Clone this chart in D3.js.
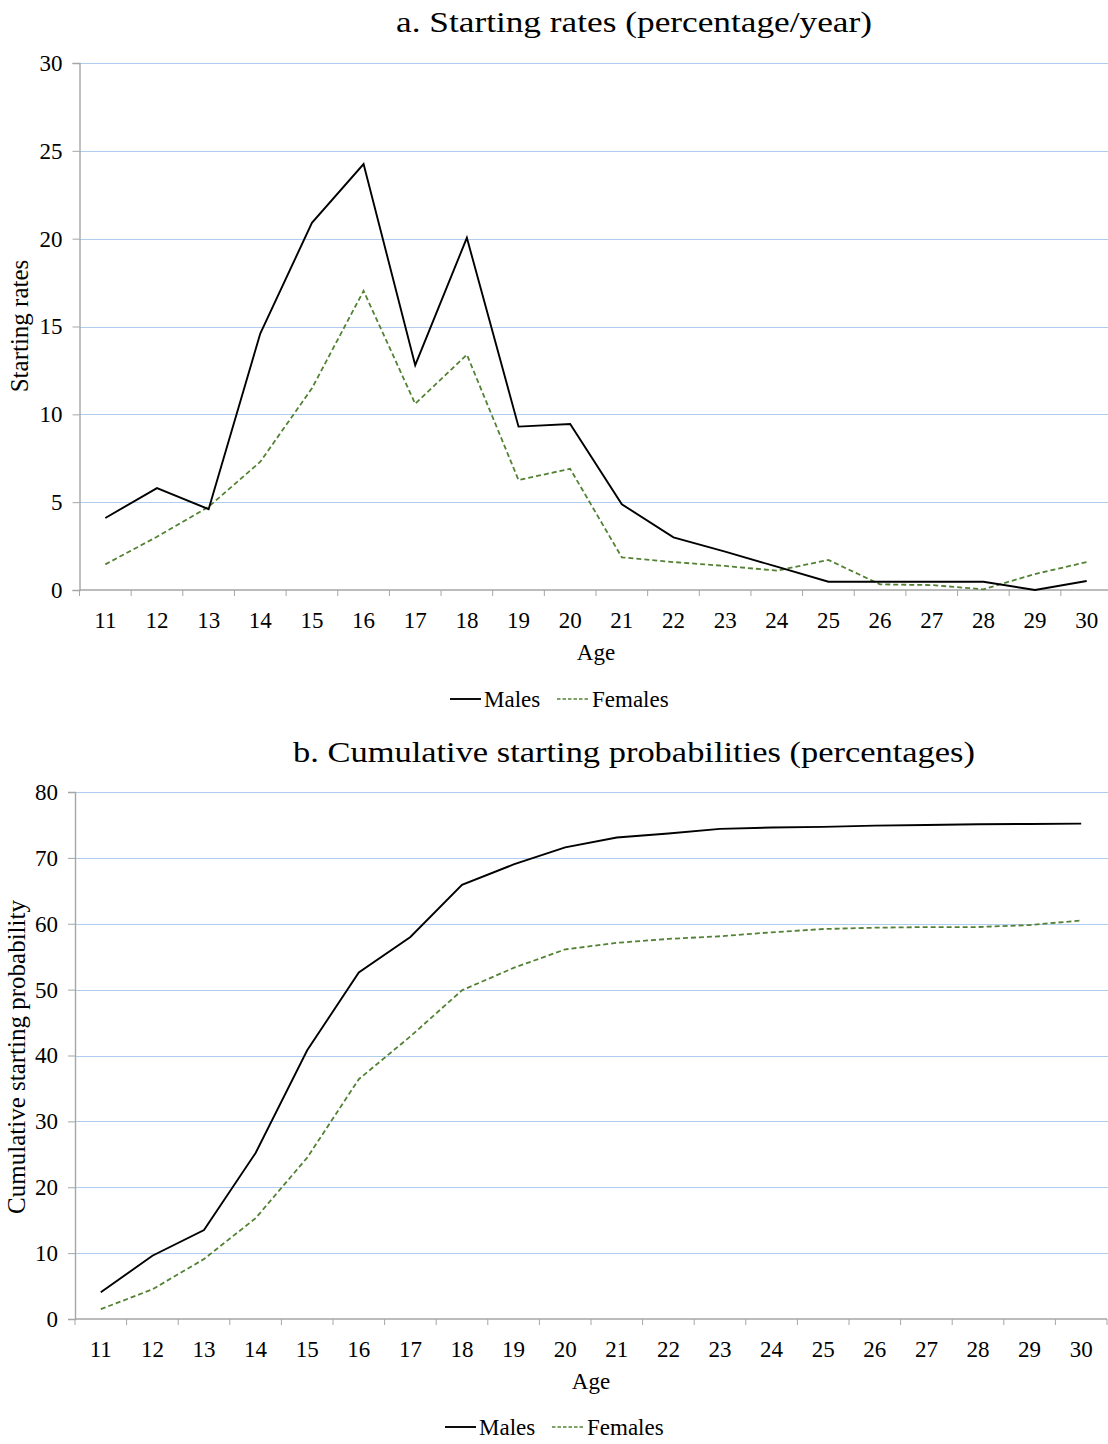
<!DOCTYPE html>
<html>
<head>
<meta charset="utf-8">
<script src="https://cdn.jsdelivr.net/npm/d3@7"></script>
<style>
  html, body { margin: 0; padding: 0; background: #fff; }
  svg { display: block; }
  text { font-family: "Liberation Serif", "Times New Roman", serif; fill: #000; }
</style>
</head>
<body>
<svg id="chart" width="1108" height="1444"></svg>
<script>
// ages on the x axis
var ages = [11, 12, 13, 14, 15, 16, 17, 18, 19, 20, 21, 22, 23, 24, 25, 26, 27, 28, 29, 30];

// panel a: starting rates (percentage/year)
var maleRates   = [4.1, 5.8, 4.6, 14.6, 20.9, 24.25, 12.8, 20.05, 9.3, 9.45, 4.88, 3.0, 2.18, 1.33, 0.47, 0.47, 0.47, 0.47, 0.0, 0.51];
var femaleRates = [1.46, 3.03, 4.74, 7.3, 11.48, 17.03, 10.6, 13.4, 6.26, 6.9, 1.86, 1.59, 1.37, 1.1, 1.71, 0.32, 0.28, 0.04, 0.91, 1.59];
var rateTicks = [0, 5, 10, 15, 20, 25, 30];

// panel b: cumulative starting probabilities (percentages)
var maleCum   = [4.05, 9.6, 13.5, 25.2, 40.8, 52.6, 58.0, 65.9, 69.0, 71.6, 73.1, 73.7, 74.4, 74.6, 74.7, 74.9, 75.0, 75.1, 75.15, 75.2];
var femaleCum = [1.5, 4.5, 9.1, 15.3, 24.5, 36.4, 42.9, 49.9, 53.3, 56.1, 57.1, 57.7, 58.1, 58.7, 59.2, 59.4, 59.5, 59.5, 59.8, 60.5];
var cumTicks = [0, 10, 20, 30, 40, 50, 60, 70, 80];

var seriesNames = ["Males", "Females"];

var svg = d3.select("#chart");
var gridColor = "#b0ccef";
var axisColor = "#a6a6a6";
var femaleColor = "#548235";

function drawPanel(p) {
    var g = svg.append("g");

    var x = d3.scaleBand().domain(ages).range([p.left, p.right]);
    var y = d3.scaleLinear().domain([0, p.yMax]).range([p.bottom, p.top]);

    // gridlines
    g.append("g").selectAll("line")
        .data(p.ticks.filter(function(t) { return t > 0; }))
        .enter().append("line")
        .attr("x1", p.left).attr("x2", 1108)
        .attr("y1", function(d) { return Math.round(y(d)) + 0.5; })
        .attr("y2", function(d) { return Math.round(y(d)) + 0.5; })
        .attr("stroke", gridColor).attr("stroke-width", 1.2);

    // y axis
    var yAxis = g.append("g")
        .attr("transform", "translate(" + p.left + ",0)")
        .call(d3.axisLeft(y).tickValues(p.ticks).tickSize(7).tickPadding(10).tickFormat(d3.format("d")));
    yAxis.select(".domain").attr("stroke", axisColor).attr("stroke-width", 1.4);
    yAxis.selectAll(".tick line").attr("stroke", axisColor);
    yAxis.selectAll("text")
        .style("font-family", "'Liberation Serif', serif")
        .style("font-size", "23px").attr("fill", "#000");

    // x axis: band boundaries as ticks
    var xg = g.append("g").attr("transform", "translate(0," + p.bottom + ")");
    xg.append("line")
        .attr("x1", p.left).attr("x2", p.right)
        .attr("stroke", axisColor).attr("stroke-width", 1.4);
    xg.selectAll(".bt")
        .data(ages.concat([null]))
        .enter().append("line")
        .attr("x1", function(d, i) { return p.left + i * x.bandwidth(); })
        .attr("x2", function(d, i) { return p.left + i * x.bandwidth(); })
        .attr("y1", 0).attr("y2", 6)
        .attr("stroke", axisColor);
    xg.selectAll("text")
        .data(ages)
        .enter().append("text")
        .attr("x", function(d) { return x(d) + x.bandwidth() / 2; })
        .attr("y", 38)
        .attr("text-anchor", "middle")
        .style("font-size", "23px")
        .text(function(d) { return d; });

    // axis titles
    g.append("text")
        .attr("x", (p.left + p.right) / 2)
        .attr("y", p.bottom + 70)
        .attr("text-anchor", "middle")
        .style("font-size", "23px")
        .text("Age");
    g.append("text")
        .attr("transform", "translate(" + p.yTitleX + "," + p.yTitleY + ") rotate(-90)")
        .attr("text-anchor", "middle")
        .style("font-size", "25px")
        .text(p.yTitle);

    // chart title
    g.append("text")
        .attr("x", 634)
        .attr("y", p.titleY)
        .attr("text-anchor", "middle")
        .attr("textLength", p.titleWidth)
        .attr("lengthAdjust", "spacingAndGlyphs")
        .style("font-size", "30px")
        .text(p.title);

    // lines
    var line = d3.line()
        .x(function(d, i) { return x(ages[i]) + x.bandwidth() / 2; })
        .y(function(d) { return y(d); });

    g.append("path")
        .datum(p.female)
        .attr("d", line)
        .attr("fill", "none")
        .attr("stroke", femaleColor)
        .attr("stroke-width", 1.8)
        .attr("stroke-dasharray", "5,3");
    g.append("path")
        .datum(p.male)
        .attr("d", line)
        .attr("fill", "none")
        .attr("stroke", "#000")
        .attr("stroke-width", 1.9);

    // legend
    var lg = g.append("g").attr("transform", "translate(" + p.legendX + "," + p.legendY + ")");
    lg.append("line").attr("x1", 0).attr("x2", 31).attr("stroke", "#000").attr("stroke-width", 1.9);
    lg.append("text").attr("x", 34).attr("y", 8).style("font-size", "23px").text(seriesNames[0]);
    lg.append("line").attr("x1", 107).attr("x2", 140)
        .attr("stroke", femaleColor).attr("stroke-width", 1.5).attr("stroke-dasharray", "3.5,2");
    lg.append("text").attr("x", 142).attr("y", 8).style("font-size", "23px").text(seriesNames[1]);
}

drawPanel({
    left: 79.5, right: 1112.5, top: 63, bottom: 590, yMax: 30,
    ticks: rateTicks, male: maleRates, female: femaleRates,
    title: "a.  Starting rates (percentage/year)", titleY: 32, titleWidth: 476,
    yTitle: "Starting rates", yTitleX: 28, yTitleY: 326,
    legendX: 450, legendY: 699
});

drawPanel({
    left: 75, right: 1107, top: 792, bottom: 1319, yMax: 80,
    ticks: cumTicks, male: maleCum, female: femaleCum,
    title: "b.  Cumulative starting probabilities (percentages)", titleY: 762, titleWidth: 682,
    yTitle: "Cumulative starting probability", yTitleX: 25, yTitleY: 1057,
    legendX: 445, legendY: 1427
});
</script>
</body>
</html>
